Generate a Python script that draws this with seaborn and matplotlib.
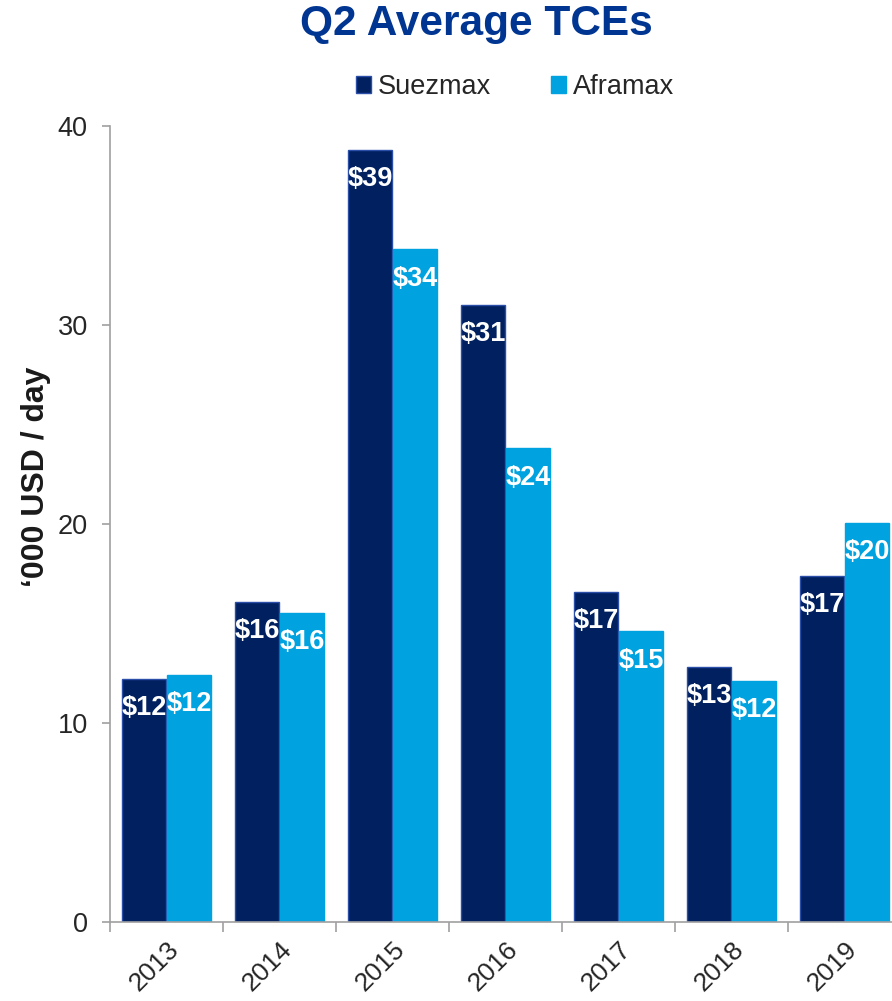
import matplotlib
matplotlib.use("Agg")
import matplotlib.pyplot as plt
import matplotlib.patches as mpatches
import pandas as pd
import seaborn as sns

# Q2 average time-charter equivalent earnings, '000 USD per day
years = ["2013", "2014", "2015", "2016", "2017", "2018", "2019"]
suezmax = [12.2, 16.1, 38.8, 31.0, 16.6, 12.8, 17.4]
aframax = [12.4, 15.55, 33.8, 23.8, 14.6, 12.1, 20.05]
series = ["Suezmax", "Aframax"]
colors = {"Suezmax": "#002060", "Aframax": "#00A3E0"}
edge_colors = {"Suezmax": "#2B4FA8", "Aframax": "#00A3E0"}
yticks = [0, 10, 20, 30, 40]

df = pd.DataFrame({
    "year": years * 2,
    "value": suezmax + aframax,
    "vessel": ["Suezmax"] * len(years) + ["Aframax"] * len(years),
})

sns.set_theme(style="white")
plt.rcParams["font.family"] = ["Liberation Sans", "DejaVu Sans"]

W, H = 892, 1001
fig = plt.figure(figsize=(W / 100, H / 100), dpi=100)
ax = fig.add_axes([110 / W, 1 - 922 / H, (901 - 110) / W, (922 - 126) / H])

sns.barplot(data=df, x="year", y="value", hue="vessel", hue_order=series,
            palette=colors, width=0.8, gap=0.03, ax=ax, legend=False,
            saturation=1)

for cont, name, vals in zip(ax.containers, series, [suezmax, aframax]):
    for bar, v in zip(cont, vals):
        bar.set_edgecolor(edge_colors[name])
        bar.set_linewidth(1.0)
        ax.annotate(f"${v:.0f}", (bar.get_x() + bar.get_width() / 2, v),
                    xytext=(0, -21), textcoords="offset points",
                    ha="center", va="center", color="white",
                    fontsize=19.5, fontweight="bold")

ax.set_xlim(-0.5, len(years) - 0.5)
ax.set_ylim(0, 40)
ax.set_yticks(yticks)
ax.set_xlabel("")
ax.set_ylabel("")

for side in ["top", "right"]:
    ax.spines[side].set_visible(False)
for side in ["left", "bottom"]:
    ax.spines[side].set_color("#A0A0A0")
    ax.spines[side].set_linewidth(1.2)

ax.tick_params(axis="y", which="major", direction="out", length=6, width=1.2,
               color="#A0A0A0", labelsize=19.5, labelcolor="#262626", pad=10,
               left=True)
ax.set_xticks(range(len(years)))
ax.set_xticklabels(years, rotation=45, ha="right", rotation_mode="anchor")
ax.tick_params(axis="x", which="major", length=0, labelsize=19,
               labelcolor="#262626", pad=11)
ax.set_xticks([i + 0.5 for i in range(-1, len(years))], minor=True)
ax.tick_params(axis="x", which="minor", direction="out", length=7, width=1.2,
               color="#A0A0A0", bottom=True)

fig.text(476 / W, 1 - 24 / H, "Q2 Average TCEs", ha="center", va="center",
         fontsize=30.5, fontweight="bold", color="#003591")

fig.text(36 / W, 1 - 477 / H, "\u2018000 USD / day", rotation=90,
         ha="center", va="center", fontsize=23, fontweight="bold",
         color="#1A1A1A")

handles = [mpatches.Patch(facecolor=colors[s], edgecolor=edge_colors[s],
                          label=s) for s in series]
fig.legend(handles=handles, loc="center", bbox_to_anchor=(515 / W, 1 - 87 / H),
           ncol=2, frameon=False, fontsize=19.5, handlelength=0.55,
           handleheight=0.55, handletextpad=0.25, columnspacing=2.2,
           labelcolor="#262626")

fig.savefig("out.png", dpi=100)
